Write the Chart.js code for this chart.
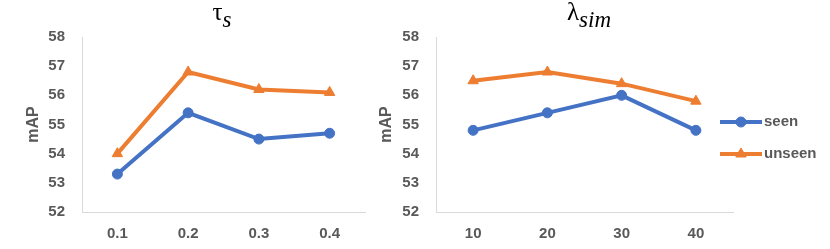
<!DOCTYPE html>
<html>
<head>
<meta charset="utf-8">
<script src="https://cdn.jsdelivr.net/npm/chart.js@4"></script>
<style>
  body { margin: 0; background: #fff; }
  #wrap { position: relative; width: 830px; height: 249px; overflow: hidden; }
  canvas { position: absolute; top: 0; }
  .ttl { position: absolute; top: 0; width: 100px; text-align: center;
         font: 25px/24px "Liberation Serif", serif; color: #000; }
  .ttl sub { font-size: 23px; font-style: italic; vertical-align: -7px; line-height: 0; }
</style>
</head>
<body>
<div id="wrap">
  <canvas id="tau" width="372" height="249" style="left:0"></canvas>
  <canvas id="lambda" width="460" height="249" style="left:370px"></canvas>
  <div class="ttl" style="left:172px">τ<sub>s</sub></div>
  <div class="ttl" style="left:539px">λ<sub>sim</sub></div>
</div>
<script>
const tauLabels = ['0.1', '0.2', '0.3', '0.4'];
const tauSeen = [53.3, 55.4, 54.5, 54.7];
const tauUnseen = [54.0, 56.8, 56.2, 56.1];

const lambdaLabels = ['10', '20', '30', '40'];
const lambdaSeen = [54.8, 55.4, 56.0, 54.8];
const lambdaUnseen = [56.5, 56.8, 56.4, 55.8];

const seriesNames = ['seen', 'unseen'];

const blue = '#4472C4';
const orange = '#ED7D31';
const grey = '#595959';
const axisGrey = '#d9d9d9';
const tickFont = { family: 'Liberation Sans', size: 15, weight: 'bold' };

// legend drawn to the right of the plot, line + marker like the original
const sideLegend = {
  id: 'sideLegend',
  afterDraw(chart, args, opts) {
    const ctx = chart.ctx;
    chart.data.datasets.forEach((ds, i) => {
      const y = opts.y + i * opts.gap;
      ctx.save();
      ctx.strokeStyle = ds.borderColor;
      ctx.lineWidth = ds.borderWidth;
      ctx.beginPath();
      ctx.moveTo(opts.x, y);
      ctx.lineTo(opts.x + opts.len, y);
      ctx.stroke();
      ctx.fillStyle = ds.pointBackgroundColor;
      ctx.strokeStyle = ds.pointBorderColor;
      ctx.lineWidth = 1;
      Chart.helpers.drawPoint(ctx, {
        pointStyle: ds.pointStyle, radius: ds.pointRadius, rotation: 0, borderWidth: 1
      }, opts.x + opts.len / 2, y);
      ctx.fillStyle = grey;
      ctx.font = 'bold 15px "Liberation Sans"';
      ctx.textBaseline = 'middle';
      ctx.fillText(ds.label, opts.x + opts.len + 2, y);
      ctx.restore();
    });
  }
};

function series(label, data, color, style, r) {
  return {
    label, data,
    borderColor: color, backgroundColor: color,
    pointBackgroundColor: color, pointBorderColor: color,
    borderWidth: 4, pointStyle: style, pointRadius: r, pointBorderWidth: 1,
    tension: 0
  };
}

function makeChart(id, labels, seen, unseen, yWidth, titlePad, padRight, legend) {
  const plugins = legend ? [sideLegend] : [];
  return new Chart(document.getElementById(id), {
    type: 'line',
    data: {
      labels,
      datasets: [
        series(seriesNames[0], seen, blue, 'circle', 5),
        series(seriesNames[1], unseen, orange, 'triangle', 6)
      ]
    },
    plugins,
    options: {
      responsive: false,
      animation: false,
      layout: { padding: { top: 37, right: padRight, left: 0, bottom: 0 } },
      plugins: {
        legend: { display: false },
        tooltip: { enabled: false },
        sideLegend: legend || {}
      },
      scales: {
        x: {
          offset: true,
          grid: { drawOnChartArea: false, drawTicks: false },
          border: { color: axisGrey, width: 1 },
          ticks: { color: grey, font: tickFont, padding: 13, maxRotation: 0 },
          afterFit: s => { s.height = 37; }
        },
        y: {
          min: 52, max: 58,
          grid: { drawOnChartArea: false, drawTicks: false },
          border: { color: axisGrey, width: 1 },
          ticks: { stepSize: 1, color: grey, font: tickFont, padding: 17 },
          title: { display: true, text: 'mAP', color: grey,
                   font: { family: 'Liberation Sans', size: 16, weight: 'bold' },
                   padding: { top: titlePad, bottom: 0 } },
          afterFit: s => { s.width = yWidth; }
        }
      }
    }
  });
}

makeChart('tau', tauLabels, tauSeen, tauUnseen, 82, 24, 2, null);
makeChart('lambda', lambdaLabels, lambdaSeen, lambdaUnseen, 66, 7, 97,
  { x: 350, y: 122, gap: 32, len: 42 });
</script>
</body>
</html>
